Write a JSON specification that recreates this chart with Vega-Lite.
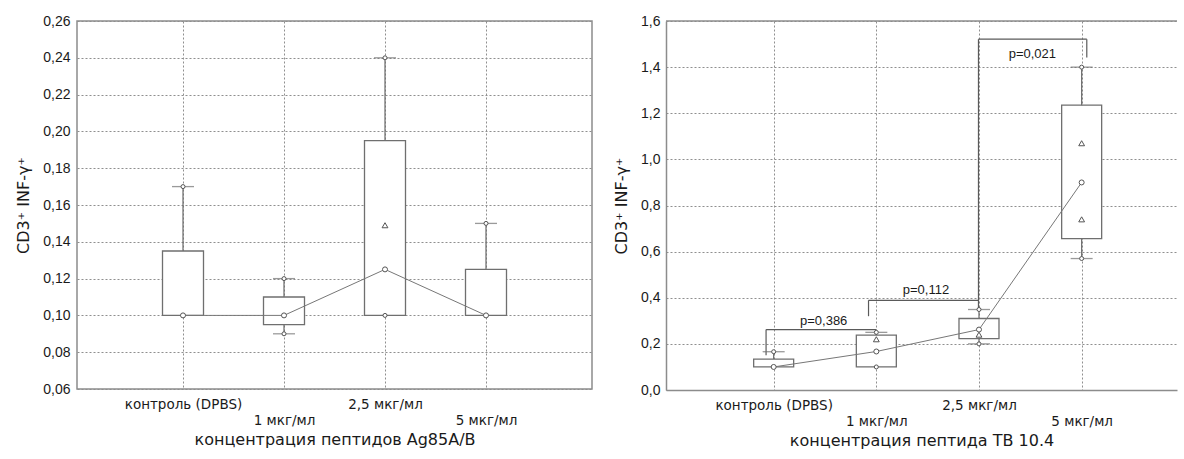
{
  "$schema": "https://vega.github.io/schema/vega-lite/v6.json",
  "background": "white",
  "padding": {"left": 15, "top": 13, "right": 0, "bottom": 0},
  "spacing": 20,
  "config": {
    "font": "Liberation Sans",
    "view": {"stroke": "#8c8c8c", "strokeWidth": 1.5},
    "axis": {
      "labelFont": "Liberation Sans", "labelFontSize": 14, "labelColor": "#1a1a1a",
      "titleFont": "DejaVu Sans", "titleFontSize": 16, "titleFontWeight": "normal", "titleColor": "#1a1a1a",
      "ticks": false, "domain": false, "gridColor": "#8f8f8f", "gridDash": [2, 2], "gridWidth": 1,
      "labelFlush": false, "labelOverlap": false
    },
    "axisY": {"labelPadding": 7, "titlePadding": 11},
    "axisX": {"labelFont": "DejaVu Sans", "labelFontSize": 13.5, "labelPadding": 8, "labelLineHeight": 16, "titlePadding": 5, "labelBaseline": "top"}
  },
  "datasets": {
    "leftBox": [
      {"pos": 1, "group": "контроль (DPBS)", "min": 0.10, "q1": 0.10, "med": 0.10, "q3": 0.135, "max": 0.17},
      {"pos": 2, "group": "1 мкг/мл", "min": 0.09, "q1": 0.095, "med": 0.10, "q3": 0.11, "max": 0.12},
      {"pos": 3, "group": "2,5 мкг/мл", "min": 0.10, "q1": 0.10, "med": 0.125, "q3": 0.195, "max": 0.24},
      {"pos": 4, "group": "5 мкг/мл", "min": 0.10, "q1": 0.10, "med": 0.10, "q3": 0.125, "max": 0.15}
    ],
    "leftPts": [
      {"pos": 1, "value": 0.10, "kind": "median"},
      {"pos": 1, "value": 0.17, "kind": "extreme"},
      {"pos": 2, "value": 0.10, "kind": "median"},
      {"pos": 2, "value": 0.12, "kind": "extreme"},
      {"pos": 2, "value": 0.09, "kind": "extreme"},
      {"pos": 3, "value": 0.125, "kind": "median"},
      {"pos": 3, "value": 0.10, "kind": "extreme"},
      {"pos": 3, "value": 0.24, "kind": "extreme"},
      {"pos": 3, "value": 0.149, "kind": "outlier"},
      {"pos": 4, "value": 0.10, "kind": "median"},
      {"pos": 4, "value": 0.15, "kind": "extreme"}
    ],
    "rightBox": [
      {"pos": 1, "group": "контроль (DPBS)", "min": 0.10, "q1": 0.10, "med": 0.10, "q3": 0.134, "max": 0.166},
      {"pos": 2, "group": "1 мкг/мл", "min": 0.10, "q1": 0.10, "med": 0.167, "q3": 0.238, "max": 0.25},
      {"pos": 3, "group": "2,5 мкг/мл", "min": 0.20, "q1": 0.223, "med": 0.262, "q3": 0.31, "max": 0.349},
      {"pos": 4, "group": "5 мкг/мл", "min": 0.57, "q1": 0.656, "med": 0.90, "q3": 1.235, "max": 1.40}
    ],
    "rightPts": [
      {"pos": 1, "value": 0.10, "kind": "median"},
      {"pos": 1, "value": 0.166, "kind": "extreme"},
      {"pos": 2, "value": 0.167, "kind": "median"},
      {"pos": 2, "value": 0.10, "kind": "extreme"},
      {"pos": 2, "value": 0.25, "kind": "extreme"},
      {"pos": 2, "value": 0.22, "kind": "outlier"},
      {"pos": 3, "value": 0.262, "kind": "median"},
      {"pos": 3, "value": 0.20, "kind": "extreme"},
      {"pos": 3, "value": 0.349, "kind": "extreme"},
      {"pos": 3, "value": 0.24, "kind": "outlier"},
      {"pos": 4, "value": 0.90, "kind": "median"},
      {"pos": 4, "value": 0.57, "kind": "extreme"},
      {"pos": 4, "value": 1.40, "kind": "extreme"},
      {"pos": 4, "value": 1.07, "kind": "outlier"},
      {"pos": 4, "value": 0.74, "kind": "outlier"}
    ],
    "brackets": [
      {"x1": 0.926, "x2": 0.926, "y1": 0.151, "y2": 0.262},
      {"x1": 0.926, "x2": 2.0, "y1": 0.262, "y2": 0.262},
      {"x1": 1.924, "x2": 1.924, "y1": 0.32, "y2": 0.389},
      {"x1": 1.924, "x2": 2.995, "y1": 0.389, "y2": 0.389},
      {"x1": 2.995, "x2": 2.995, "y1": 0.349, "y2": 1.521},
      {"x1": 2.995, "x2": 4.05, "y1": 1.521, "y2": 1.521},
      {"x1": 4.05, "x2": 4.05, "y1": 1.521, "y2": 1.442}
    ],
    "pvals": [
      {"x": 1.487, "y": 0.298, "text": "p=0,386"},
      {"x": 2.483, "y": 0.432, "text": "p=0,112"},
      {"x": 3.52, "y": 1.458, "text": "p=0,021"}
    ]
  },
  "hconcat": [
    {
      "width": 515,
      "height": 368,
      "layer": [
        {
          "data": {"name": "leftBox"},
          "mark": {"type": "rule", "color": "#6a6a6a", "strokeWidth": 1.2},
          "encoding": {
            "x": {
              "field": "pos", "type": "quantitative",
              "scale": {"domain": [0, 5], "nice": false, "zero": false},
              "title": "концентрация пептидов Ag85A/B",
              "axis": {
                "values": [1, 2, 3, 4], "tickCount": 20,
                "labelExpr": "datum.value == 1 ? 'контроль (DPBS)' : datum.value == 2 ? ['', '1 мкг/мл'] : datum.value == 3 ? '2,5 мкг/мл' : ['', '5 мкг/мл']"
              }
            },
            "y": {
              "field": "min", "type": "quantitative",
              "scale": {"domain": [0.06, 0.26], "nice": false, "zero": false},
              "title": "CD3⁺ INF-γ⁺",
              "axis": {
                "values": [0.06, 0.08, 0.10, 0.12, 0.14, 0.16, 0.18, 0.20, 0.22, 0.24, 0.26], "tickCount": 20,
                "labelExpr": "replace(format(datum.value, '.2f'), '.', ',')"
              }
            },
            "y2": {"field": "max"}
          }
        },
        {
          "data": {"name": "leftBox"},
          "mark": {"type": "bar", "orient": "vertical", "width": 41, "fill": "white", "stroke": "#6f6f6f", "strokeWidth": 1.3},
          "encoding": {
            "x": {"field": "pos", "type": "quantitative"},
            "y": {"field": "q1", "type": "quantitative"},
            "y2": {"field": "q3"}
          }
        },
        {
          "data": {"name": "leftBox"},
          "mark": {"type": "line", "color": "#777", "strokeWidth": 1},
          "encoding": {
            "x": {"field": "pos", "type": "quantitative"},
            "y": {"field": "med", "type": "quantitative"}
          }
        },
        {
          "data": {"name": "leftBox"},
          "mark": {"type": "tick", "orient": "horizontal", "size": 22, "thickness": 1.3, "color": "#6f6f6f"},
          "encoding": {
            "x": {"field": "pos", "type": "quantitative"},
            "y": {"field": "max", "type": "quantitative"}
          }
        },
        {
          "data": {"name": "leftBox"},
          "transform": [{"filter": "datum.min < datum.q1"}],
          "mark": {"type": "tick", "orient": "horizontal", "size": 22, "thickness": 1.3, "color": "#6f6f6f"},
          "encoding": {
            "x": {"field": "pos", "type": "quantitative"},
            "y": {"field": "min", "type": "quantitative"}
          }
        },
        {
          "data": {"name": "leftPts"},
          "mark": {"type": "point", "filled": false, "stroke": "#555", "strokeWidth": 1, "fill": "white", "fillOpacity": 1},
          "encoding": {
            "x": {"field": "pos", "type": "quantitative"},
            "y": {"field": "value", "type": "quantitative"},
            "shape": {"field": "kind", "type": "nominal", "legend": null,
              "scale": {"domain": ["extreme", "median", "outlier"], "range": ["circle", "circle", "triangle-up"]}},
            "size": {"field": "kind", "type": "nominal", "legend": null,
              "scale": {"domain": ["extreme", "median", "outlier"], "range": [16, 34, 14]}}
          }
        }
      ]
    },
    {
      "width": 511,
      "height": 369,
      "view": {"stroke": null},
      "layer": [
        {
          "data": {"name": "rightBox"},
          "mark": {"type": "rule", "color": "#6a6a6a", "strokeWidth": 1.2},
          "encoding": {
            "x": {
              "field": "pos", "type": "quantitative",
              "scale": {"domain": [0, 4.88], "nice": false, "zero": false},
              "title": "концентрация пептида ТВ 10.4",
              "axis": {
                "values": [1, 2, 3, 4], "tickCount": 20, "domain": true, "domainColor": "#8c8c8c", "domainWidth": 1.5,
                "labelExpr": "datum.value == 1 ? 'контроль (DPBS)' : datum.value == 2 ? ['', '1 мкг/мл'] : datum.value == 3 ? '2,5 мкг/мл' : ['', '5 мкг/мл']"
              }
            },
            "y": {
              "field": "min", "type": "quantitative",
              "scale": {"domain": [0, 1.6], "nice": false, "zero": false},
              "title": "CD3⁺ INF-γ⁺",
              "axis": {
                "values": [0, 0.2, 0.4, 0.6, 0.8, 1.0, 1.2, 1.4, 1.6], "tickCount": 20, "domain": true, "domainColor": "#8c8c8c", "domainWidth": 1.5,
                "labelPadding": 6,
                "labelExpr": "replace(format(datum.value, '.1f'), '.', ',')"
              }
            },
            "y2": {"field": "max"}
          }
        },
        {
          "data": {"values": [{}]},
          "mark": {"type": "rule", "color": "#8c8c8c", "strokeWidth": 1.5},
          "encoding": {"y": {"datum": 1.6, "type": "quantitative"}}
        },
        {
          "data": {"name": "brackets"},
          "mark": {"type": "rule", "color": "#5a5a5a", "strokeWidth": 1.2},
          "encoding": {
            "x": {"field": "x1", "type": "quantitative"},
            "x2": {"field": "x2"},
            "y": {"field": "y1", "type": "quantitative"},
            "y2": {"field": "y2"}
          }
        },
        {
          "data": {"name": "rightBox"},
          "mark": {"type": "bar", "orient": "vertical", "width": 40, "fill": "white", "stroke": "#6f6f6f", "strokeWidth": 1.3},
          "encoding": {
            "x": {"field": "pos", "type": "quantitative"},
            "y": {"field": "q1", "type": "quantitative"},
            "y2": {"field": "q3"}
          }
        },
        {
          "data": {"name": "rightBox"},
          "mark": {"type": "line", "color": "#777", "strokeWidth": 1},
          "encoding": {
            "x": {"field": "pos", "type": "quantitative"},
            "y": {"field": "med", "type": "quantitative"}
          }
        },
        {
          "data": {"name": "rightBox"},
          "mark": {"type": "tick", "orient": "horizontal", "size": 22, "thickness": 1.3, "color": "#6f6f6f"},
          "encoding": {
            "x": {"field": "pos", "type": "quantitative"},
            "y": {"field": "max", "type": "quantitative"}
          }
        },
        {
          "data": {"name": "rightBox"},
          "transform": [{"filter": "datum.min < datum.q1"}],
          "mark": {"type": "tick", "orient": "horizontal", "size": 22, "thickness": 1.3, "color": "#6f6f6f"},
          "encoding": {
            "x": {"field": "pos", "type": "quantitative"},
            "y": {"field": "min", "type": "quantitative"}
          }
        },
        {
          "data": {"name": "rightPts"},
          "mark": {"type": "point", "filled": false, "stroke": "#555", "strokeWidth": 1, "fill": "white", "fillOpacity": 1},
          "encoding": {
            "x": {"field": "pos", "type": "quantitative"},
            "y": {"field": "value", "type": "quantitative"},
            "shape": {"field": "kind", "type": "nominal", "legend": null,
              "scale": {"domain": ["extreme", "median", "outlier"], "range": ["circle", "circle", "triangle-up"]}},
            "size": {"field": "kind", "type": "nominal", "legend": null,
              "scale": {"domain": ["extreme", "median", "outlier"], "range": [16, 34, 14]}}
          }
        },
        {
          "data": {"name": "pvals"},
          "mark": {"type": "text", "fontSize": 13, "color": "#1a1a1a", "font": "Liberation Sans"},
          "encoding": {
            "x": {"field": "x", "type": "quantitative"},
            "y": {"field": "y", "type": "quantitative"},
            "text": {"field": "text"}
          }
        }
      ]
    }
  ]
}
